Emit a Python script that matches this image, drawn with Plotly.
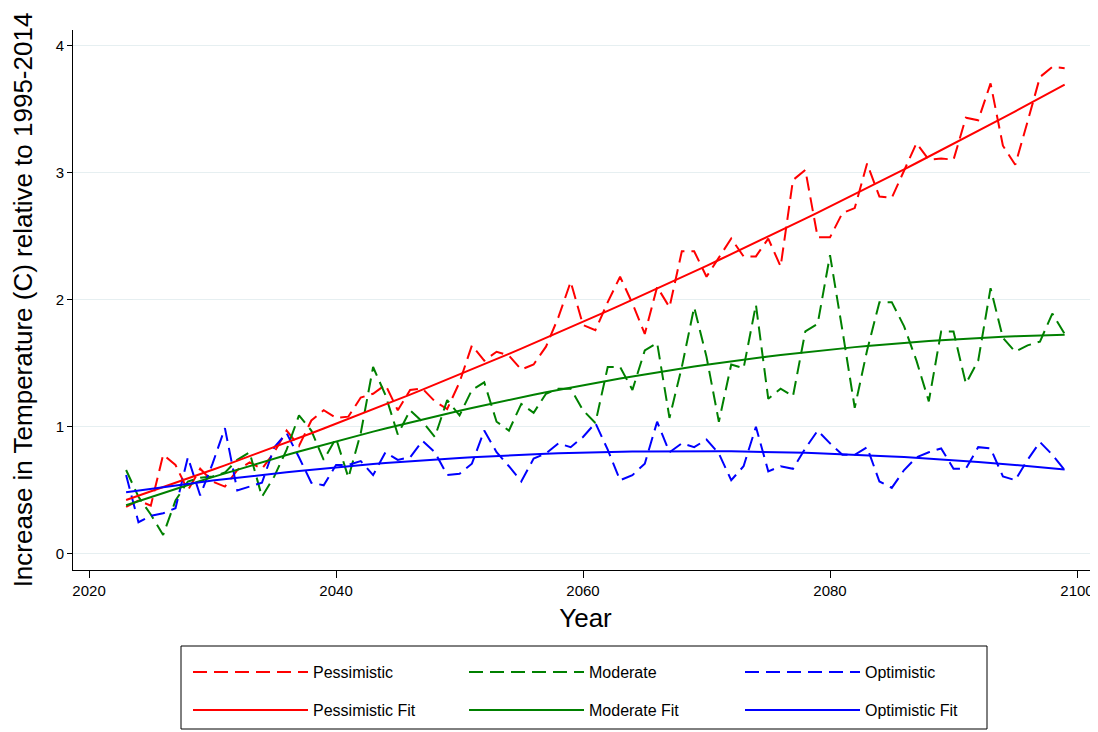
import numpy as np
import plotly.graph_objects as go

years = list(range(2023, 2100))

# values, 2023-2029 then one row per decade
pessimistic = [
    0.37, 0.42, 0.38, 0.78, 0.70, 0.50, 0.67,
    0.57, 0.53, 0.66, 0.72, 0.67, 0.80, 0.97, 0.85, 1.05, 1.13,
    1.07, 1.08, 1.23, 1.26, 1.33, 1.13, 1.29, 1.30, 1.20, 1.14,
    1.35, 1.64, 1.52, 1.59, 1.56, 1.45, 1.49, 1.63, 1.86, 2.14,
    1.80, 1.76, 1.98, 2.18, 1.97, 1.73, 2.10, 1.94, 2.38, 2.38,
    2.18, 2.33, 2.48, 2.34, 2.34, 2.48, 2.26, 2.94, 3.02, 2.49,
    2.49, 2.68, 2.72, 3.07, 2.81, 2.80, 3.02, 3.23, 3.10, 3.11,
    3.10, 3.43, 3.41, 3.70, 3.21, 3.06, 3.40, 3.75, 3.83, 3.82,
]
moderate = [
    0.66, 0.45, 0.31, 0.15, 0.42, 0.57, 0.60,
    0.61, 0.64, 0.74, 0.80, 0.45, 0.61, 0.82, 1.09, 0.97, 0.74,
    0.91, 0.60, 0.95, 1.47, 1.25, 0.94, 1.13, 1.04, 0.92, 1.21,
    1.09, 1.29, 1.35, 1.04, 0.97, 1.18, 1.11, 1.26, 1.30, 1.30,
    1.13, 1.03, 1.47, 1.47, 1.29, 1.60, 1.66, 1.07, 1.47, 1.94,
    1.55, 1.04, 1.49, 1.46, 1.96, 1.22, 1.30, 1.24, 1.75, 1.81,
    2.35, 1.76, 1.15, 1.60, 1.98, 1.98, 1.79, 1.52, 1.20, 1.75,
    1.75, 1.34, 1.52, 2.09, 1.70, 1.59, 1.64, 1.67, 1.89, 1.73,
]
optimistic = [
    0.62, 0.25, 0.30, 0.32, 0.36, 0.76, 0.46,
    0.71, 0.99, 0.50, 0.53, 0.56, 0.84, 0.95, 0.76, 0.56, 0.54,
    0.70, 0.70, 0.73, 0.62, 0.80, 0.74, 0.76, 0.89, 0.80, 0.62,
    0.63, 0.71, 0.97, 0.80, 0.69, 0.57, 0.75, 0.79, 0.87, 0.84,
    0.92, 1.03, 0.82, 0.58, 0.62, 0.71, 1.04, 0.80, 0.87, 0.84,
    0.90, 0.79, 0.58, 0.69, 1.00, 0.65, 0.69, 0.67, 0.83, 0.97,
    0.87, 0.78, 0.78, 0.84, 0.57, 0.52, 0.66, 0.76, 0.80, 0.83,
    0.67, 0.67, 0.84, 0.83, 0.61, 0.58, 0.74, 0.88, 0.78, 0.66,
]

names = ["Pessimistic", "Moderate", "Optimistic"]
colors = ["#ff0000", "#008000", "#0000ff"]
series = [pessimistic, moderate, optimistic]

x = np.array(years)
fig = go.Figure()

# dashed scenario lines (first legend row)
for name, col, vals in zip(names, colors, series):
    fig.add_trace(go.Scatter(x=years, y=vals, mode="lines", name=name,
                             line=dict(color=col, width=2, dash="14px,7px"),
                             legend="legend"))

# quadratic fits (second legend row)
for name, col, vals in zip(names, colors, series):
    coef = np.polyfit(x - 2060, np.array(vals), 2)
    fit = np.polyval(coef, x - 2060)
    fig.add_trace(go.Scatter(x=years, y=fit, mode="lines", name=name + " Fit",
                             line=dict(color=col, width=2),
                             legend="legend2"))

fig.update_xaxes(range=[2018.7, 2101.7], tickvals=[2020, 2040, 2060, 2080, 2100],
                 ticks="outside", ticklen=7, tickcolor="black", automargin=False,
                 showline=True, linecolor="black", linewidth=1,
                 showgrid=False, zeroline=False,
                 tickfont=dict(size=15, color="black"),
                 title=dict(text="Year", font=dict(size=26, color="black"), standoff=10))
fig.update_yaxes(range=[-0.126, 4.12], tickvals=[0, 1, 2, 3, 4],
                 ticks="outside", ticklen=5, tickcolor="black", automargin=False,
                 showline=True, linecolor="black", linewidth=1,
                 showgrid=True, gridcolor="#e6eff1", gridwidth=1, zeroline=False,
                 tickfont=dict(size=15, color="black"),
                 title=dict(text="Increase in Temperature (C) relative to 1995-2014",
                            font=dict(size=26, color="black"), standoff=16))

W, H = 1090, 724
leg = dict(orientation="h", xref="container", yref="container",
           xanchor="left", yanchor="middle", x=180 / W,
           itemwidth=115, entrywidth=146, entrywidthmode="pixels",
           font=dict(size=16, color="black"), bgcolor="rgba(0,0,0,0)",
           borderwidth=0, traceorder="normal")

fig.update_layout(
    width=W, height=H,
    margin=dict(l=65, r=0, t=22, b=162),
    plot_bgcolor="white", paper_bgcolor="white",
    font=dict(family="Liberation Sans, Arial, sans-serif", color="black"),
    legend=dict(leg, y=1 - 664 / H),
    legend2=dict(leg, y=1 - 702 / H),
    shapes=[dict(type="rect", xref="paper", yref="paper",
                 x0=108 / 1025, x1=914 / 1025,
                 y0=-76 / 540, y1=-159 / 540,
                 line=dict(color="black", width=1), fillcolor="rgba(0,0,0,0)")],
)

fig.write_html("out.html")
